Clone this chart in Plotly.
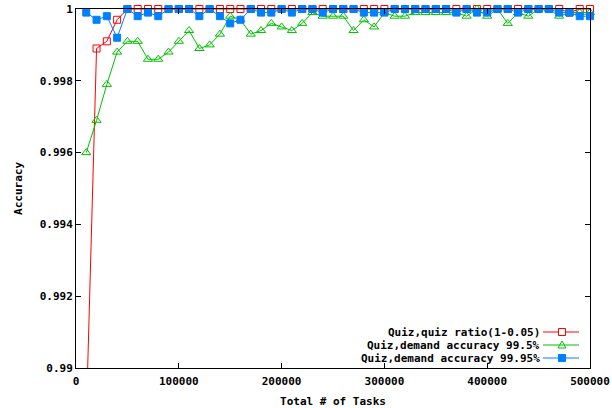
import plotly.graph_objects as go

tasks = [10000 * i for i in range(1, 51)]

quiz_ratio = [0.9886, 0.9989, 0.9991, 0.9997] + [1.0] * 43 + [0.9999, 1.0, 1.0]

demand_995 = [
    0.9960, 0.9969, 0.9979, 0.9988, 0.9991, 0.9991, 0.9986, 0.9986, 0.9988, 0.9991,
    0.9994, 0.9989, 0.9990, 0.9993, 0.9998, 0.9997, 0.9993, 0.9994, 0.9996, 0.9995,
    0.9994, 0.9996, 0.9999, 0.9998, 0.9998, 0.9998, 0.9994, 0.9997, 0.9995, 0.9999,
    0.9998, 0.9998, 0.9999, 0.9999, 0.9999, 0.9999, 0.9999, 0.9998, 1.0, 0.9998,
    1.0, 0.9996, 0.9999, 0.9998, 1.0, 1.0, 0.9998, 0.9999, 0.9999, 0.9999,
]

demand_9995 = [
    0.9999, 0.9997, 0.9998, 0.9992, 1.0, 0.9998, 0.9999, 0.9998, 1.0, 1.0,
    1.0, 0.9998, 1.0, 0.9998, 0.9996, 0.9997, 1.0, 0.9999, 0.9999, 1.0,
    0.9999, 1.0, 1.0, 0.9999, 1.0, 1.0, 1.0, 0.9999, 0.9999, 0.9999,
    1.0, 1.0, 1.0, 1.0, 1.0, 1.0, 0.9999, 1.0, 0.9999, 0.9999,
    1.0, 1.0, 0.9999, 1.0, 1.0, 1.0, 0.9999, 0.9999, 0.9998, 0.9998,
]

names = ["Quiz,quiz ratio(1-0.05)", "Quiz,demand accuracy 99.5%", "Quiz,demand accuracy 99.95%"]
colors = ["#ff0000", "#00c000", "#0080ff"]
symbols = ["square-open", "triangle-up-open", "square"]
sizes = [7, 8, 7]
series = [quiz_ratio, demand_995, demand_9995]

x_ticks = [0, 100000, 200000, 300000, 400000, 500000]
y_ticks = [0.99, 0.992, 0.994, 0.996, 0.998, 1.0]
y_ticklabels = ["0.99", "0.992", "0.994", "0.996", "0.998", "1"]

FONT = "DejaVu Sans Mono"
W, H = 612, 408
L, R, T, B = 76, 22, 9, 40
PW, PH = W - L - R, H - T - B

fig = go.Figure()
for name, ys, c, s, sz in zip(names, series, colors, symbols, sizes):
    fig.add_trace(go.Scatter(
        x=tasks, y=ys, mode="lines+markers", name=name,
        line=dict(color=c, width=1),
        marker=dict(symbol=s, size=sz, color=c, line=dict(color=c, width=1)),
        cliponaxis=False, showlegend=False,
    ))

def px(xp):
    return (xp - L) / PW

def py(yp):
    return (H - B - yp) / PH

shapes = []
annotations = []
rows_y = [332, 345, 358]
for name, c, s, yy in zip(names, colors, symbols, rows_y):
    annotations.append(dict(
        x=px(541), y=py(yy), xref="paper", yref="paper", text=name,
        showarrow=False, xanchor="right", yanchor="middle", borderpad=0,
        font=dict(family=FONT, size=11, color="black", weight="bold"),
    ))
    shapes.append(dict(type="line", xref="paper", yref="paper",
                       x0=px(543), x1=px(579), y0=py(yy), y1=py(yy),
                       line=dict(color=c, width=1)))
    cx = 562
    if s == "triangle-up-open":
        path = "M {} {} L {} {} L {} {} Z".format(
            px(cx - 4), py(yy + 3), px(cx + 4), py(yy + 3), px(cx), py(yy - 4))
        shapes.append(dict(type="path", xref="paper", yref="paper", path=path,
                           line=dict(color=c, width=1), fillcolor="rgba(0,0,0,0)"))
    else:
        shapes.append(dict(type="rect", xref="paper", yref="paper",
                           x0=px(cx - 3.5), x1=px(cx + 3.5), y0=py(yy + 3.5), y1=py(yy - 3.5),
                           line=dict(color=c, width=1),
                           fillcolor=c if s == "square" else "white"))

axis_common = dict(
    showline=True, linecolor="black", linewidth=1, mirror="allticks",
    ticks="inside", ticklen=5, tickcolor="black", tickwidth=1,
    showgrid=False, zeroline=False, automargin=False,
    tickfont=dict(family=FONT, size=11, color="black", weight="bold"),
)

fig.update_layout(
    width=W, height=H,
    margin=dict(l=L, r=R, t=T, b=B, autoexpand=False),
    paper_bgcolor="white", plot_bgcolor="white",
    shapes=shapes, annotations=annotations,
    xaxis=dict(range=[0, 500000], tickvals=x_ticks, ticktext=[str(v) for v in x_ticks],
               ticklabelstandoff=3,
               title=dict(text="Total # of Tasks", standoff=10,
                          font=dict(family=FONT, size=11, color="black", weight="bold")),
               **axis_common),
    yaxis=dict(range=[0.99, 1.0], tickvals=y_ticks, ticktext=y_ticklabels,
               title=dict(text="Accuracy", standoff=14,
                          font=dict(family=FONT, size=11, color="black", weight="bold")),
               **axis_common),
)

fig.write_html("out.html")
